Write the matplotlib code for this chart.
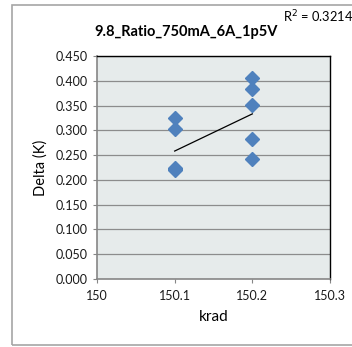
import numpy as np
import matplotlib.pyplot as plt
from matplotlib.patches import Rectangle

plt.rcParams['font.family'] = ['Lato', 'DejaVu Sans']

x_a = [150.1, 150.1, 150.1, 150.1, 150.1]
y_a = [0.324, 0.303, 0.224, 0.221, 0.219]
x_b = [150.2, 150.2, 150.2, 150.2, 150.2]
y_b = [0.405, 0.384, 0.352, 0.282, 0.243]
yticks = [0.0, 0.05, 0.1, 0.15, 0.2, 0.25, 0.3, 0.35, 0.4, 0.45]
xticks = [150, 150.1, 150.2, 150.3]
r2_text = "R$^2$ = 0.3214"

xs = np.array(x_a + x_b)
ys = np.array(y_a + y_b)

fig = plt.figure(figsize=(3.52, 3.47), dpi=100)
fig.patches.append(Rectangle((12/352, 2/347), 1.0, 340/347, transform=fig.transFigure,
                             fill=False, edgecolor='#a6a6a6', linewidth=1.2))

ax = fig.add_axes([97/352, 68/347, 233/352, 223/347])
ax.set_facecolor('#e6ebeb')
for y in yticks[1:]:
    ax.axhline(y, color='#8c8c8c', linewidth=0.9, zorder=0)

ax.plot(xs, ys, 'D', color='#4f81bd', markersize=7.5, zorder=3)

k, b = np.polyfit(xs, ys, 1)
xl = np.array([min(xs), max(xs)])
ax.plot(xl, k*xl + b, color='black', linewidth=0.9, zorder=2)

ax.set_xlim(150, 150.3)
ax.set_ylim(0, 0.45)
ax.set_xticks(xticks)
ax.set_xticklabels(['150', '150.1', '150.2', '150.3'])
ax.set_yticks(yticks)
ax.set_yticklabels(['%.3f' % v for v in yticks])
ax.tick_params(labelsize=9, direction='out', length=3, color='#868686', colors='#1a1a1a')
ax.tick_params(axis='x', pad=5)
ax.tick_params(axis='y', pad=4)
for s in ['left', 'bottom']:
    ax.spines[s].set_color('#868686')
    ax.spines[s].set_linewidth(1.2)
for s in ['top', 'right']:
    ax.spines[s].set_color('black')
    ax.spines[s].set_linewidth(1.0)

ax.set_xlabel('krad', fontsize=11, labelpad=6)
ax.set_ylabel('Delta (K)', fontsize=10.5, labelpad=5)

fig.text(186/352, 1 - 32/347, '9.8_Ratio_750mA_6A_1p5V', fontsize=10.5, fontweight='bold',
         ha='center', va='center')
fig.text(283/352, 1 - 17/347, r2_text, fontsize=9.3, ha='left', va='center')

fig.savefig('out.png', dpi=100)
